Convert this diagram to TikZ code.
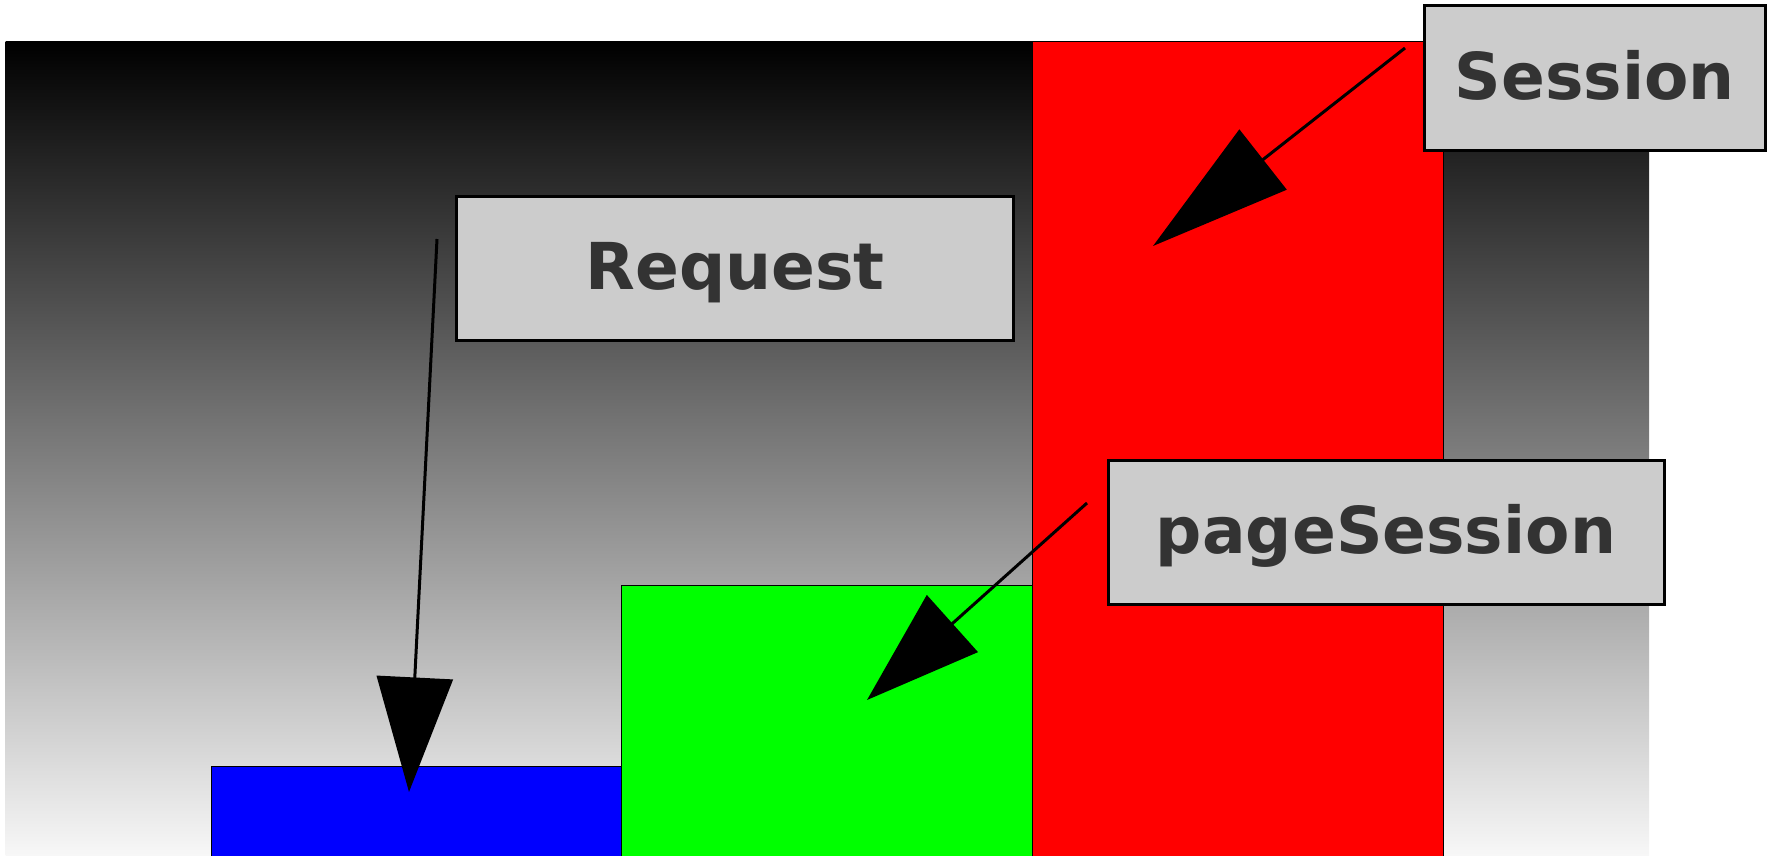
\documentclass[tikz,border=0pt]{standalone}
\usepackage{fontspec}
\setmainfont{DejaVu Sans}
\usetikzlibrary{arrows.meta}
\definecolor{boxgray}{HTML}{CCCCCC}
\definecolor{textgray}{HTML}{333333}
\tikzset{tag box/.style={draw,fill=boxgray,line width=2.25pt,minimum height=108pt,inner sep=0pt,text height=32pt,text depth=0pt,text=textgray,font=\fontsize{48.5}{58}\selectfont\bfseries},
scope rect/.style={draw,line width=0.75pt},
pointer/.style={line width=2.25pt,-{Triangle[length=86pt,width=57pt]}},
}

\begin{document}
\begin{tikzpicture}[x=0.75pt,y=-0.75pt]
				\useasboundingbox (0,0) rectangle (1767,856);
				\shade[top color=black,bottom color=white!97!black] (5.6,42) rectangle (1649,856);
				
				\draw[scope rect,fill=blue] (211,766) rectangle (621,858);
				\draw[scope rect,fill=green] (621,585) rectangle (1032,858);
				\draw[scope rect,fill=red] (1032,42) rectangle (1443,858);
				
				\coordinate (reqfrom) at (437,239);
				\coordinate (reqto) at (409,792);
				\coordinate (sesfrom) at (1405,48);
				\coordinate (sesto) at (1153,246);
				\coordinate (psesfrom) at (1087,503);
				\coordinate (psesto) at (867,700);
				
				\draw[pointer] (reqfrom) -- (reqto);
				\draw[pointer,-{Triangle[length=105pt,width=57pt]}] (sesfrom) -- (sesto);
				\draw[pointer] (psesfrom) -- (psesto);
				
				\node[tag box,minimum width=418pt] (req) at (735,268) {Request};
				\node[tag box,minimum width=256pt] (ses) at (1595,78) {Session};
				\node[tag box,minimum width=417pt] (pses) at (1386,532) {pageSession};
				
\end{tikzpicture}
\end{document}
